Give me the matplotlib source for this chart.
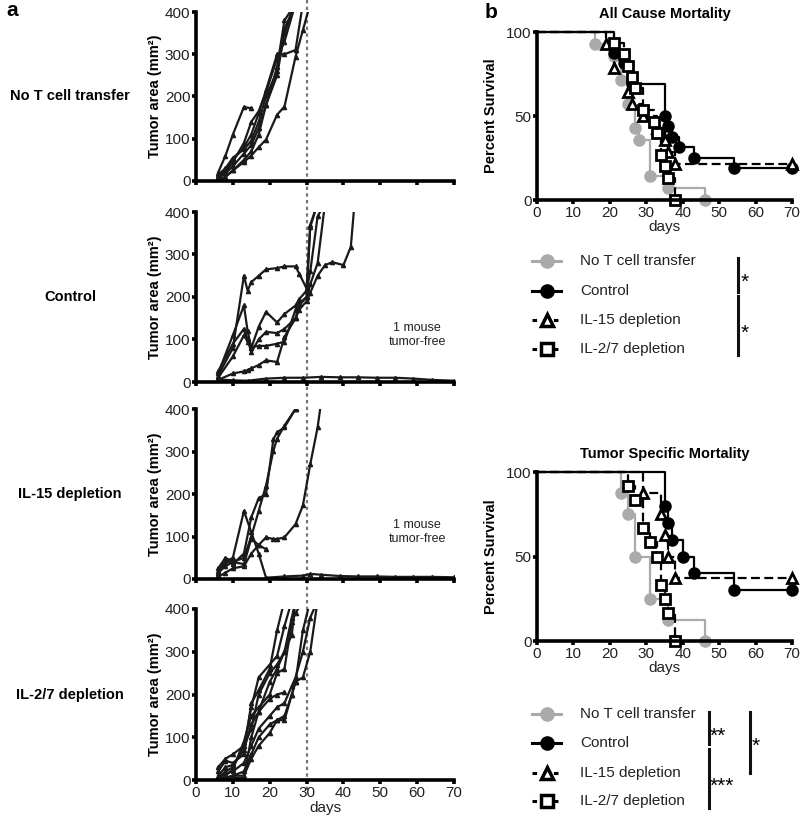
import numpy as np
import matplotlib
matplotlib.use('Agg')
import matplotlib.pyplot as plt
from matplotlib.lines import Line2D

plt.rcParams['font.family'] = ['Liberation Sans', 'DejaVu Sans']
nan = np.nan

# ---- panel a: tumour growth per mouse (day, area mm2) ----
no_t_days = [6, 8, 10, 13, 15, 17, 19, 22, 24, 27, 29, 31]
no_t_mice = [
    [20, 60, 110, 175, 172, nan, nan, nan, nan, nan, nan, nan],
    [5, 20, 45, 90, 140, 165, 210, 290, 330, 420, nan, nan],
    [10, 25, 50, 80, 110, 160, 215, 300, 300, 310, 420, nan],
    [8, 18, 35, 65, 85, 125, 180, 250, 350, 420, nan, nan],
    [3, 10, 25, 45, 60, 80, 98, 157, 176, 294, 357, 420],
    [15, 30, 55, 75, 95, 140, 200, 260, 360, 420, nan, nan],
    [0, 10, 25, 50, 70, 110, 180, 270, 380, 420, nan, nan],
]

ctrl_days = [6, 10, 13, 14, 15, 17, 19, 22, 24, 27, 28, 30, 31, 33, 35, 37, 40, 42, 43]
ctrl_mice = [
    [15, 80, 250, 215, 235, 250, 265, 268, 272, 272, 255, 220, 365, 420, nan, nan, nan, nan, nan],
    [20, 110, 180, 120, 80, 130, 165, 140, 160, 180, 195, 215, 260, 390, 420, nan, nan, nan, nan],
    [25, 90, 125, 100, 70, 100, 118, 115, 125, 150, 180, 200, 370, 420, nan, nan, nan, nan, nan],
    [10, 60, 110, 95, 82, 85, 85, 90, 95, 170, 185, 200, 230, 280, 420, nan, nan, nan, nan],
    [5, 20, 25, 28, 32, 40, 51, 47, 106, 150, 170, 190, 210, 250, 275, 282, 275, 318, 420],
]
ctrl_free_days = [6, 10, 14, 19, 24, 29, 34, 39, 44, 49, 54, 59, 64, 70]
ctrl_free = [6, 4, 3, 8, 10, 10, 12, 11, 11, 10, 10, 8, 5, 3]

il15_days = [6, 8, 10, 13, 15, 17, 19, 21, 22, 24, 27, 29, 31, 33, 34]
il15_mice = [
    [10, 40, 50, 160, 110, 60, 3, nan, nan, nan, nan, nan, nan, nan, nan],
    [20, 45, 35, 60, 145, 190, 200, 329, 345, 357, 400, nan, nan, nan, nan],
    [15, 30, 40, 50, 100, 160, 220, 302, 330, 361, 400, nan, nan, nan, nan],
    [5, 15, 25, 30, 60, 80, 98, 94, 94, 98, 129, 173, 270, 357, 420],
    [25, 50, 40, 35, 95, 80, 70, nan, nan, nan, nan, nan, nan, nan, nan],
]
il15_free_days = [19, 24, 29, 31, 34, 39, 44, 49, 54, 59, 64, 70]
il15_free = [3, 6, 8, 12, 10, 7, 6, 6, 5, 5, 5, 4]

il27_days = [6, 8, 10, 13, 15, 17, 20, 22, 24, 26, 27, 29, 31, 33]
il27_mice = [
    [20, 45, 40, 60, 180, 210, 260, 350, 420, nan, nan, nan, nan, nan],
    [5, 20, 30, 80, 120, 200, 250, 270, 300, 340, 420, nan, nan, nan],
    [0, 10, 25, 90, 150, 170, 200, 250, 260, 370, 390, 420, nan, nan],
    [10, 30, 35, 70, 130, 160, 190, 200, 205, nan, nan, nan, nan, nan],
    [0, 5, 10, 20, 60, 100, 130, 140, 140, 200, 230, 240, 300, 420],
    [5, 15, 20, 40, 80, 120, 150, 170, 180, 220, 240, 300, 380, 420],
    [2, 5, 5, 5, 100, 160, 230, 260, 300, 380, 420, nan, nan, nan],
    [30, 50, 60, 80, 170, 240, 270, 290, 360, 420, nan, nan, nan, nan],
    [0, 5, 10, 10, 50, 80, 110, 140, 150, 200, 230, 350, 420, nan],
]

# ---- panel b: Kaplan-Meier steps (day, % survival) ----
groups = ['No T cell transfer', 'Control', 'IL-15 depletion', 'IL-2/7 depletion']

all_t = [
    [0, 16, 21, 23, 25, 27, 28, 31, 36, 46],
    [0, 21, 24, 26, 35, 36, 37, 39, 43, 54, 70],
    [0, 19, 21, 25, 26, 29, 33, 35, 36, 38, 70],
    [0, 21, 24, 25, 26, 27, 29, 32, 33, 34, 35, 36, 38],
]
all_s = [
    [100, 92.9, 85.7, 71.4, 57.1, 42.9, 35.7, 14.3, 7.1, 0],
    [100, 87.5, 81.25, 68.75, 50, 43.75, 37.5, 31.25, 25, 18.75, 18.75],
    [100, 92.9, 78.6, 64.3, 57.1, 50, 42.9, 35.7, 28.6, 21.4, 21.4],
    [100, 93.3, 86.7, 80, 73.3, 66.7, 53.3, 46.7, 40, 26.7, 20, 13.3, 0],
]
ts_t = [
    [0, 23, 25, 27, 31, 36, 46],
    [0, 35, 36, 37, 40, 43, 54, 70],
    [0, 29, 34, 35, 36, 38, 70],
    [0, 25, 27, 29, 31, 33, 34, 35, 36, 38],
]
ts_s = [
    [100, 87.5, 75, 50, 25, 12.5, 0],
    [100, 80, 70, 60, 50, 40, 30, 30],
    [100, 87.5, 75, 62.5, 50, 37.5, 37.5],
    [100, 91.7, 83.3, 66.7, 58.3, 50, 33.3, 25, 16.7, 0],
]

gray = '#aaaaaa'
styles = [
    dict(color=gray, ls='-', marker='o', mfc=gray, mec=gray),
    dict(color='black', ls='-', marker='o', mfc='black', mec='black'),
    dict(color='black', ls=(0, (4, 2)), marker='^', mfc='white', mec='black'),
    dict(color='black', ls=(0, (4, 2)), marker='s', mfc='white', mec='black'),
]

W, H = 800, 822
fig = plt.figure(figsize=(8, 8.22), dpi=100)


def box(x0, y0, x1, y1):
    # pixel box (top-left origin) -> figure fraction
    return [x0 / W, 1 - y1 / H, (x1 - x0) / W, (y1 - y0) / H]


def style_axes(ax, ylim, yticks, xlabels=True):
    ax.set_xlim(0, 70)
    ax.set_ylim(*ylim)
    ax.set_xticks(range(0, 71, 10))
    ax.set_yticks(yticks)
    if not xlabels:
        ax.set_xticklabels([])
    for s in ['top', 'right']:
        ax.spines[s].set_visible(False)
    for s in ['left', 'bottom']:
        ax.spines[s].set_linewidth(2.6)
    ax.tick_params(length=3, width=2.6, labelsize=11, pad=1, labelcolor='#222222')
    ax.patch.set_alpha(0)


# ---- panel a ----
rows = [
    ('No T cell transfer', no_t_days, no_t_mice, None, None, (12, 181)),
    ('Control', ctrl_days, ctrl_mice, ctrl_free_days, ctrl_free, (212, 382)),
    ('IL-15 depletion', il15_days, il15_mice, il15_free_days, il15_free, (409, 579)),
    ('IL-2/7 depletion', il27_days, il27_mice, None, None, (609, 780)),
]

# dotted line at day 30 across all panel a rows
ax_line = fig.add_axes(box(196, 0, 454, 790))
ax_line.set_xlim(0, 70)
ax_line.axvline(30, color='#777777', ls=(0, (1.5, 1.5)), lw=1.6)
ax_line.axis('off')

for i, (name, days, mice, fdays, fvals, (yt, yb)) in enumerate(rows):
    ax = fig.add_axes(box(196, yt, 454, yb))
    for m in mice:
        ax.plot(days, m, color='#1a1a1a', lw=1.6, marker='^', ms=3)
    if fdays is not None:
        ax.plot(fdays, fvals, color='#1a1a1a', lw=1.6, marker='^', ms=3)
        ax.text(60, 110, '1 mouse\ntumor-free', ha='center', va='center',
                fontsize=9, color='#222222', linespacing=1.2)
    style_axes(ax, (0, 400), [0, 100, 200, 300, 400], xlabels=(i == 3))
    ax.set_ylabel('Tumor area (mm²)', fontsize=10.5, fontweight='bold', labelpad=2)
    fig.text(70 / W, 1 - (yt + yb) / 2 / H, name, ha='center', va='center',
             fontsize=10.5, fontweight='bold')
    if i == 3:
        ax.set_xlabel('days', fontsize=11, labelpad=1, color='#222222')

fig.text(6 / W, 1 - 10 / H, 'a', fontsize=15, fontweight='bold', va='center')
fig.text(485 / W, 1 - 12 / H, 'b', fontsize=15, fontweight='bold', va='center')


# ---- panel b ----
def km_panel(yt, yb, times, survs, title):
    ax = fig.add_axes(box(537, yt, 792, yb))
    for t, s, st in zip(times, survs, styles):
        ax.plot(t, s, drawstyle='steps-post', color=st['color'], ls=st['ls'],
                lw=1.6, clip_on=False)
        ax.plot(t[1:], s[1:], ls='none', marker=st['marker'], ms=7,
                mfc=st['mfc'], mec=st['mec'], mew=2, clip_on=False)
    style_axes(ax, (0, 100), [0, 50, 100])
    ax.set_ylabel('Percent Survival', fontsize=10.5, fontweight='bold', labelpad=6)
    ax.set_xlabel('days', fontsize=11, labelpad=0, color='#222222')
    ax.set_title(title, fontsize=10.5, fontweight='bold', pad=10)
    return ax


km_panel(32, 200, all_t, all_s, 'All Cause Mortality')
km_panel(472, 641, ts_t, ts_s, 'Tumor Specific Mortality')


def key(ys):
    for y, name, st in zip(ys, groups, styles):
        fy = 1 - y / H
        fig.add_artist(Line2D([532 / W, 561 / W], [fy, fy], color=st['color'],
                              ls=st['ls'] if st['ls'] == '-' else (0, (1.5, 2)), lw=2.2))
        fig.add_artist(Line2D([546.5 / W], [fy], marker=st['marker'], ms=8,
                              mfc=st['mfc'], mec=st['mec'], mew=2.5))
        fig.text(580 / W, fy, name, fontsize=11, va='center', color='#222222')


def sig(x, y0, y1, label, tx, ty):
    fig.add_artist(Line2D([x / W, x / W], [1 - y0 / H, 1 - y1 / H], color='#111111', lw=2.2))
    fig.text(tx / W, 1 - ty / H, label, fontsize=15, va='center', ha='left')


key([261, 291, 320, 349])
sig(738, 258, 292, '*', 741, 282)
sig(738, 296, 355, '*', 741, 333)

key([714, 743, 773, 801])
sig(709, 712, 744, '**', 710, 736)
sig(709, 749, 808, '***', 710, 786)
sig(750, 712, 773, '*', 752, 746)

fig.savefig('out.png', dpi=100)
